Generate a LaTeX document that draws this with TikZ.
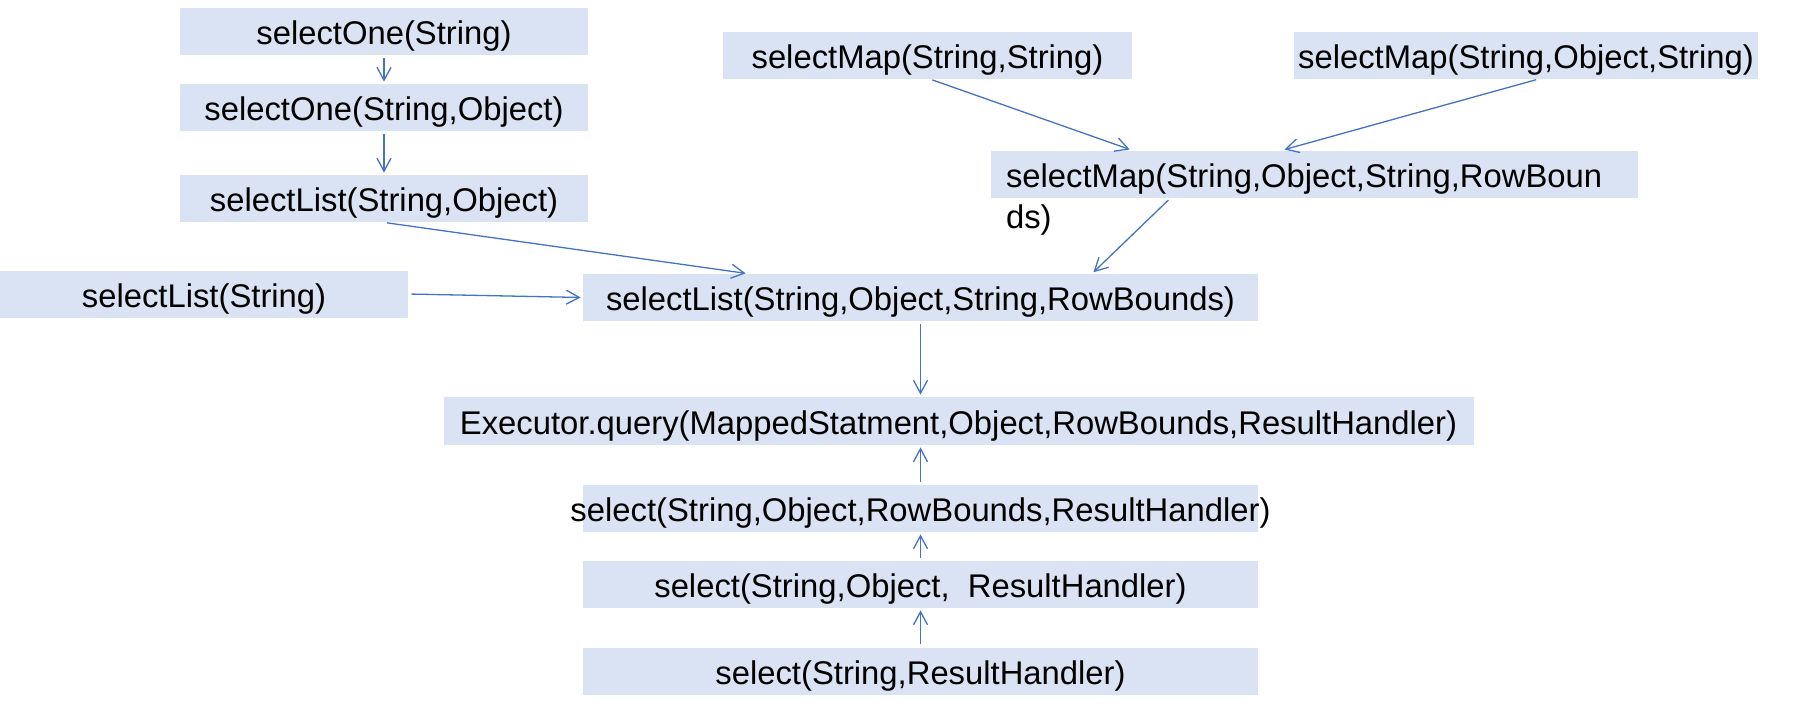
\documentclass[tikz,border=0pt]{standalone}
\usepackage{fontspec}
\setmainfont{Liberation Sans}
\usepackage{xcolor}
\definecolor{boxfill}{HTML}{DAE3F3}
\definecolor{linkblue}{HTML}{4472C4}
\usetikzlibrary{arrows.meta,positioning,calc}

\begin{document}
\begin{tikzpicture}[x=0.5pt, y=-0.5pt, font=\fontsize{16.4}{19.7}\selectfont,
  callbox/.style={fill=boxfill, inner sep=0pt, minimum height=23.5pt, text height=16.5pt, text depth=3.5pt, align=center},
  arrow/.style={draw=linkblue, line width=0.65pt, -{Straight Barb[length=6.5pt, width=7pt]}, shorten <=1.5pt, shorten >=1pt}]
\useasboundingbox (0,0) rectangle (1797,708);
% left column
\node[callbox, minimum width=204pt] (one) at (384,31.5) {selectOne(String)};
\node[callbox, minimum width=204pt] (oneobj) at (384,107.5) {selectOne(String,Object)};
\node[callbox, minimum width=204pt] (listobj) at (384,198.5) {selectList(String,Object)};
\node[callbox, minimum width=204pt] (list) at (204,294) {selectList(String)};
% map calls
\node[callbox, minimum width=204.5pt] (mapss) at (927.5,55) {selectMap(String,String)};
\node[callbox, minimum width=232pt] (mapsos) at (1526,55) {selectMap(String,Object,String)};
\node[callbox, minimum width=323.5pt, text width=308.5pt, inner xsep=7.5pt, align=left,
  label={[name=maprbtail, anchor=west, inner sep=0pt, xshift=7.5pt, yshift=-11pt]south west:ds)}]
  (maprb) at (1314.5,174) {selectMap(String,Object,String,RowBoun};
% main chain
\node[callbox, minimum width=337.5pt] (listrb) at (920.5,297.5) {selectList(String,Object,String,RowBounds)};
\node[callbox, minimum width=515pt, minimum height=24pt] (query) at (958.5,421) {Executor.query(MappedStatment,Object,RowBounds,ResultHandler)};
\node[callbox, minimum width=337.5pt] (selrb) at (920.5,508.5) {\makebox[0pt]{select(String,Object,RowBounds,ResultHandler)}};
\node[callbox, minimum width=337.5pt] (selobj) at (920.5,584.5) {select(String,Object,\ \ ResultHandler)};
\node[callbox, minimum width=337.5pt] (selrh) at (920.5,671) {select(String,ResultHandler)};

\draw[arrow] (one) -- (oneobj);
\draw[arrow] (oneobj) -- (listobj);
\draw[arrow] (listobj.south) -- ($(listrb.north west)+(165,0)$);
\draw[arrow] (list.east) -- (listrb.west);
\draw[arrow] ($(mapss.south)+(2,0)$) -- ($(maprb.north west)+(141,0)$);
\draw[arrow] ($(mapsos.south)+(13,0)$) -- ($(maprb.north)+(-32,0)$);
\draw[arrow] ($(maprb.south west)+(180,0)$) -- ($(listrb.north)+(171.5,0)$);
\draw[arrow] (listrb) -- (listrb.south |- query.north);
\draw[arrow] (selrb) -- (selrb.north |- query.south);
\draw[arrow] (selobj) -- (selrb);
\draw[arrow] (selrh) -- (selobj);
\end{tikzpicture}
\end{document}
